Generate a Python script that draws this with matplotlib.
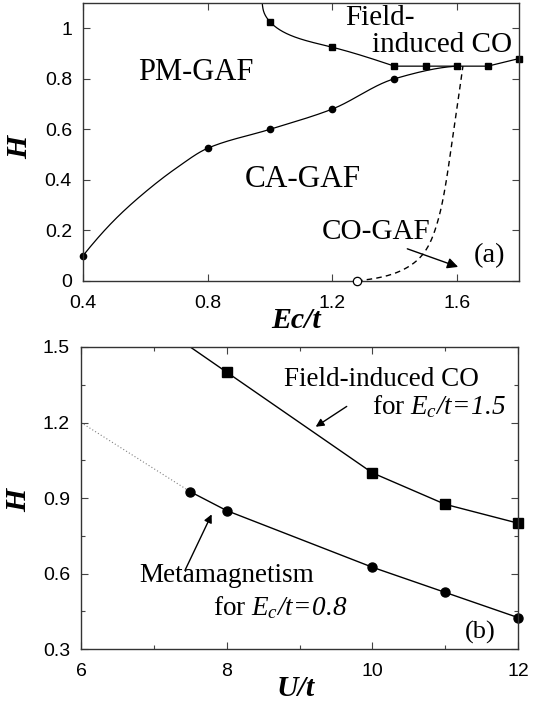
import numpy as np
import matplotlib
matplotlib.use("Agg")
from matplotlib import pyplot as plt

plt.rcParams['font.family'] = ['Liberation Sans', 'DejaVu Sans']
plt.rcParams['mathtext.fontset'] = 'custom'
# the math pieces (E_c/t=...) are fully italic in the figure
plt.rcParams['mathtext.rm'] = 'Liberation Serif:italic'
plt.rcParams['mathtext.it'] = 'Liberation Serif:italic'

# ---- panel (a): H vs Ec/t ----
ec_circ = [0.4, 0.8, 1.0, 1.2, 1.4]
h_circ = [0.1, 0.525, 0.6, 0.68, 0.8]
# guide points along the smooth metamagnetic boundary (no markers)
ec_meta_line = [0.4, 0.5, 0.6, 0.7, 0.8, 1.0, 1.2, 1.4, 1.6]
h_meta_line = [0.1, 0.24, 0.352, 0.447, 0.525, 0.6, 0.68, 0.8, 0.85]

ec_sq = [1.0, 1.2, 1.4, 1.5, 1.6, 1.7, 1.8]
h_sq = [1.026, 0.925, 0.85, 0.85, 0.85, 0.85, 0.88]
ec_co_top = [0.975, 0.982, 1.0, 1.2, 1.4]
h_co_top = [1.11, 1.06, 1.026, 0.925, 0.85]

ec_dash = [1.28, 1.4, 1.48, 1.53, 1.56, 1.585, 1.605, 1.62]
h_dash = [0.0, 0.03, 0.09, 0.2, 0.35, 0.55, 0.72, 0.85]
ec_open = [1.28]
h_open = [0.0]

# ---- panel (b): H vs U/t ----
u_sq = [8, 10, 11, 12]
h_u_sq = [1.4, 1.0, 0.875, 0.8]
u_sq_line = [7.0, 8, 10, 11, 12]
h_sq_line = [1.6, 1.4, 1.0, 0.875, 0.8]
u_circ = [7.5, 8, 10, 11, 12]
h_u_circ = [0.925, 0.85, 0.625, 0.525, 0.425]
u_dot = [6.0, 7.5]
h_dot = [1.2, 0.925]


def natural_spline(t, y, tt):
    t = np.asarray(t, float)
    y = np.asarray(y, float)
    n = len(t)
    h = np.diff(t)
    A = np.zeros((n, n))
    r = np.zeros(n)
    A[0, 0] = A[-1, -1] = 1.
    for i in range(1, n - 1):
        A[i, i - 1] = h[i - 1]
        A[i, i] = 2 * (h[i - 1] + h[i])
        A[i, i + 1] = h[i]
        r[i] = 3 * ((y[i + 1] - y[i]) / h[i] - (y[i] - y[i - 1]) / h[i - 1])
    c = np.linalg.solve(A, r)
    b = (y[1:] - y[:-1]) / h - h * (2 * c[:-1] + c[1:]) / 3
    d = (c[1:] - c[:-1]) / (3 * h)
    idx = np.clip(np.searchsorted(t, tt) - 1, 0, n - 2)
    dt = tt - t[idx]
    return y[idx] + b[idx] * dt + c[idx] * dt**2 + d[idx] * dt**3


def pchip(x, y, xx):
    # monotone cubic (Fritsch-Carlson), no overshoot
    x = np.asarray(x, float)
    y = np.asarray(y, float)
    h = np.diff(x)
    delta = np.diff(y) / h
    n = len(x)
    m = np.zeros(n)
    for k in range(1, n - 1):
        if delta[k - 1] * delta[k] > 0:
            w1 = 2 * h[k] + h[k - 1]
            w2 = h[k] + 2 * h[k - 1]
            m[k] = (w1 + w2) / (w1 / delta[k - 1] + w2 / delta[k])
    m[0] = ((2 * h[0] + h[1]) * delta[0] - h[0] * delta[1]) / (h[0] + h[1])
    m[-1] = ((2 * h[-1] + h[-2]) * delta[-1] - h[-1] * delta[-2]) / (h[-1] + h[-2])
    idx = np.clip(np.searchsorted(x, xx) - 1, 0, n - 2)
    t = (xx - x[idx]) / h[idx]
    h00 = 2 * t**3 - 3 * t**2 + 1
    h10 = t**3 - 2 * t**2 + t
    h01 = -2 * t**3 + 3 * t**2
    h11 = t**3 - t**2
    return (h00 * y[idx] + h10 * h[idx] * m[idx]
            + h01 * y[idx + 1] + h11 * h[idx] * m[idx + 1])


def parametric_spline(xs, ys, n=300):
    xs = np.asarray(xs, float)
    ys = np.asarray(ys, float)
    s = np.concatenate([[0], np.cumsum(np.hypot(np.diff(xs), np.diff(ys)))])
    ss = np.linspace(0, s[-1], n)
    return natural_spline(s, xs, ss), natural_spline(s, ys, ss)


serif = ['Liberation Serif', 'DejaVu Serif']
lab = dict(family=serif, fontweight='bold', style='italic', fontsize=21.5)

fig = plt.figure(figsize=(5.33, 7.06), dpi=100)
ax1 = fig.add_axes([0.1557, 0.602, 0.818, 0.3938])
ax2 = fig.add_axes([0.152, 0.0807, 0.8199, 0.4278])

# panel (a)
xl = np.linspace(ec_meta_line[0], ec_meta_line[-1], 300)
ax1.plot(xl, pchip(ec_meta_line, h_meta_line, xl), color='k', lw=0.9)
xu, yu = parametric_spline(ec_co_top, h_co_top)
ax1.plot(xu, yu, color='k', lw=0.9)
ax1.plot(ec_sq[2:], h_sq[2:], color='k', lw=0.9)
xd, yd = parametric_spline(ec_dash, h_dash)
ax1.plot(xd, yd, color='k', lw=1.0, ls=(0, (4, 3)))
ax1.plot(ec_circ, h_circ, 'o', color='k', ms=4.5, clip_on=False)
ax1.plot(ec_sq, h_sq, 's', color='k', ms=5, clip_on=False)
ax1.plot(ec_open, h_open, 'o', mfc='white', mec='k', ms=6, mew=0.9, clip_on=False, zorder=5)

ax1.set_xlim(0.4, 1.8)
ax1.set_ylim(0, 1.1)
ax1.set_xticks([0.4, 0.8, 1.2, 1.6])
ax1.set_xticklabels(['0.4', '0.8', '1.2', '1.6'])
ax1.set_yticks([0, 0.2, 0.4, 0.6, 0.8, 1.0])
ax1.set_yticklabels(['0', '0.2', '0.4', '0.6', '0.8', '1'])
ax1.tick_params(axis='x', pad=10)

ax1.text(0.763, 0.823, 'PM-GAF', family=serif, fontsize=22, ha='center', va='center')
ax1.text(1.106, 0.40, 'CA-GAF', family=serif, fontsize=22.5, ha='center', va='center')
ax1.text(1.34, 0.194, 'CO-GAF', family=serif, fontsize=21, ha='center', va='center')
ax1.text(1.242, 1.04, 'Field-', family=serif, fontsize=21, ha='left', va='center')
ax1.text(1.329, 0.935, 'induced CO', family=serif, fontsize=21, ha='left', va='center')
ax1.text(1.705, 0.101, '(a)', family=serif, fontsize=20.5, ha='center', va='center')
ax1.annotate('', xy=(1.613, 0.052), xytext=(1.433, 0.131),
             arrowprops=dict(arrowstyle='-|>', color='k', lw=1, mutation_scale=16))

# panel (b)
ax2.plot(u_dot, h_dot, color='gray', lw=0.8, ls=(0, (1, 2)))
ax2.plot(u_sq_line, h_sq_line, color='k', lw=1.0)
ax2.plot(u_sq, h_u_sq, 's', color='k', ms=6.5, clip_on=False)
ax2.plot(u_circ, h_u_circ, '-o', color='k', lw=1.0, ms=6.5, clip_on=False)

ax2.set_xlim(6, 12)
ax2.set_ylim(0.3, 1.5)
ax2.set_xticks([6, 8, 10, 12])
ax2.set_xticks([7, 9, 11], minor=True)
ax2.set_yticks([0.3, 0.6, 0.9, 1.2, 1.5])
ax2.set_yticks([0.45, 0.75, 1.05, 1.35], minor=True)
ax2.set_yticklabels(['0.3', '0.6', '0.9', '1.2', '1.5'])
ax2.tick_params(axis='x', pad=10)

ax2.text(10.12, 1.37, 'Field-induced CO', family=serif, fontsize=19.5, ha='center', va='center')
ax2.text(10.0, 1.263, r'for $E_c/t\!=\!1.5$', family=serif, fontsize=19.5,
         ha='left', va='center')
ax2.text(8.0, 0.592, 'Metamagnetism', family=serif, fontsize=19.5, ha='center', va='center')
ax2.text(7.81, 0.466, r'for $E_c/t\!=\!0.8$', family=serif, fontsize=19.5,
         ha='left', va='center')
ax2.text(11.48, 0.366, '(b)', family=serif, fontsize=19, ha='center', va='center')
ax2.annotate('', xy=(9.19, 1.177), xytext=(9.68, 1.27),
             arrowprops=dict(arrowstyle='-|>', color='k', lw=1, mutation_scale=12))
ax2.annotate('', xy=(7.81, 0.845), xytext=(7.41, 0.602),
             arrowprops=dict(arrowstyle='-|>', color='k', lw=1, mutation_scale=12))

for ax in (ax1, ax2):
    ax.tick_params(which='both', direction='in', top=True, right=True,
                   labelsize=14, length=5, width=0.8, color='#444444')
    ax.tick_params(axis='y', pad=8)
    ax.tick_params(which='minor', length=3)
    for sp in ax.spines.values():
        sp.set_linewidth(1.0)
        sp.set_color('#333333')

fig.text(296 / 533, 1 - 320 / 706, 'Ec/t', ha='center', va='center', **lab)
fig.text(296 / 533, 1 - 688 / 706, 'U/t', ha='center', va='center', **lab)
fig.text(20 / 533, 1 - 147 / 706, 'H', ha='center', va='center', rotation=90, **lab)
fig.text(19 / 533, 1 - 500 / 706, 'H', ha='center', va='center', rotation=90, **lab)

fig.savefig('out.png', dpi=100)
